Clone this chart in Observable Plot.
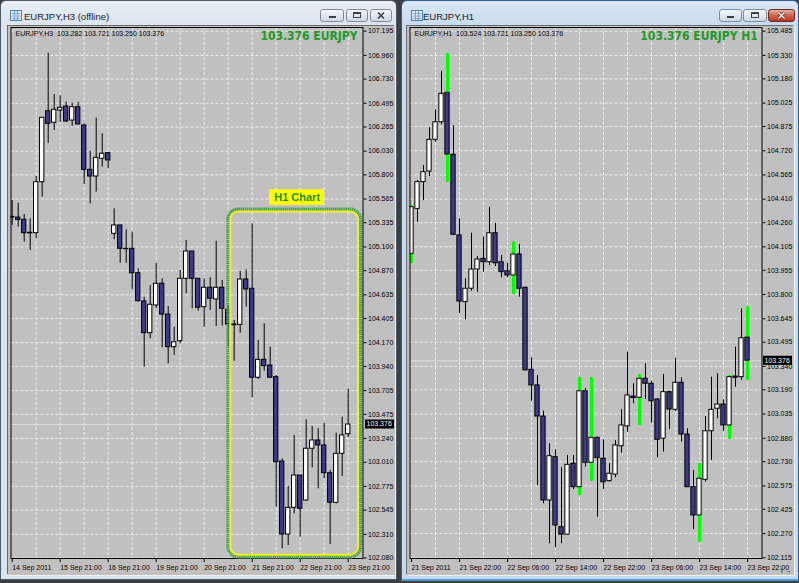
<!DOCTYPE html>
<html>
<head>
<meta charset="utf-8">
<script src="https://cdn.jsdelivr.net/npm/d3@7"></script>
<script src="https://cdn.jsdelivr.net/npm/@observablehq/plot@0.6"></script>
<style>
html,body{margin:0;padding:0;}
body{width:799px;height:583px;background:#3d3f42;position:relative;overflow:hidden;font-family:"Liberation Sans",Arial,sans-serif;}
.win{position:absolute;top:0;height:580px;box-sizing:border-box;border:1px solid #4e5966;border-radius:6px 6px 0 0;}
#w1{left:0;width:397px;background:linear-gradient(#e8eef6 0,#dbe4ef 24px,#d9e2ed 100%);}
#w2{left:401px;width:398px;height:581px;background:linear-gradient(#d8e7f7 0,#c8dcf1 24px,#c4d9ef 100%);border-color:#35618f;border-bottom:2px solid #4d9ad8;}
.title{position:absolute;top:10px;font-size:9.5px;color:#1a1a1a;white-space:nowrap;line-height:11px;}
.icon{position:absolute;left:9px;top:9px;}
.btn{position:absolute;top:8px;height:13px;box-sizing:border-box;border:1px solid #7d8a99;border-radius:3px;background:linear-gradient(#f6f9fc,#e0e8f1 50%,#cfd9e5);}
.btn svg{position:absolute;left:0;top:0;}
.btn.red{background:linear-gradient(#e8b0a4,#d0624e 50%,#bb3a26);border-color:#6b2a22;}
.client{position:absolute;top:25px;width:387px;height:549px;background:#c0c0c0;box-shadow:-1px -1px 0 #6b6b6b,1px 1px 0 #f2f2f2;}
#c1{left:7px;} #c2{left:5px;}
.client svg{position:absolute;left:0;top:0;}
</style>
</head>
<body>
<div class="win" id="w1">
  <svg class="icon" width="12" height="11"><rect x="0.5" y="0.5" width="11" height="10" fill="#dfeaf7" stroke="#4f7fb8"/><path d="M2 3.5H10M2 6H10M2 8.5H10M4.5 1V10M7.5 1V10" stroke="#6f97c8" stroke-width="0.8"/></svg>
  <div class="title" style="left:23px">EURJPY,H3 (offline)</div>
  <div class="btn" style="left:319px;width:24px"><svg width="22" height="11"><rect x="8" y="6" width="7" height="2" fill="#3a3f46"/></svg></div>
  <div class="btn" style="left:345px;width:22px"><svg width="20" height="11"><rect x="6.5" y="2.5" width="7" height="5" fill="none" stroke="#3a3f46"/><rect x="6.5" y="2.5" width="7" height="1.5" fill="#3a3f46"/></svg></div>
  <div class="btn" style="left:369px;width:22px"><svg width="20" height="11"><path d="M7 2.5L13 8.5M13 2.5L7 8.5" stroke="#3a3f46" stroke-width="1.6"/></svg></div>
  <div class="client" id="c1"></div>
</div>
<div class="win" id="w2">
  <svg class="icon" width="12" height="11"><rect x="0.5" y="0.5" width="11" height="10" fill="#dfeaf7" stroke="#4f7fb8"/><path d="M2 3.5H10M2 6H10M2 8.5H10M4.5 1V10M7.5 1V10" stroke="#6f97c8" stroke-width="0.8"/></svg>
  <div class="title" style="left:21px">EURJPY,H1</div>
  <div class="btn" style="left:317px;width:23px"><svg width="21" height="11"><rect x="7" y="6" width="7" height="2" fill="#3a3f46"/></svg></div>
  <div class="btn" style="left:341px;width:24px"><svg width="22" height="11"><rect x="7.5" y="2.5" width="7" height="5" fill="none" stroke="#3a3f46"/><rect x="7.5" y="2.5" width="7" height="1.5" fill="#3a3f46"/></svg></div>
  <div class="btn red" style="left:366px;width:27px"><svg width="25" height="11"><path d="M9.5 2.5L15.5 8.5M15.5 2.5L9.5 8.5" stroke="#5a1a12" stroke-width="2.6"/><path d="M9.5 2.5L15.5 8.5M15.5 2.5L9.5 8.5" stroke="#ffffff" stroke-width="1.5"/></svg></div>
  <div class="client" id="c2"></div>
</div>
<script>
// ---------- data ----------
const symbol = "EURJPY";

// EURJPY H3 candles
const h3Open  = [105.392,105.385,105.364,105.238,105.234,105.729,106.418,106.306,106.425,106.464,106.328,106.457,106.279,105.849,105.784,105.956,106.011,105.228,105.309,105.082,105.082,104.845,104.571,104.263,104.532,104.743,104.444,104.127,104.185,104.791,105.056,104.791,104.515,104.704,104.590,104.704,104.490,104.347,104.344,104.784,104.694,103.830,104.004,103.949,103.836,103.017,102.308,102.567,102.881,102.638,103.141,103.221,103.173,102.903,102.616,103.092,103.282];
const h3High  = [105.551,105.525,105.415,105.373,105.784,106.357,106.981,106.580,106.568,106.506,106.496,106.506,106.296,106.030,106.351,106.199,106.011,105.471,105.309,105.267,105.243,104.888,104.612,104.726,104.942,104.791,104.522,104.321,104.872,105.163,105.056,104.791,104.791,104.801,105.156,104.775,104.532,104.386,104.865,104.878,105.325,104.192,104.354,104.127,103.852,103.043,102.774,103.270,102.881,103.422,103.357,103.335,103.389,102.930,103.292,103.448,103.721];
const h3Low   = [105.309,105.293,105.147,105.066,105.179,105.584,106.107,106.231,106.311,106.311,106.270,106.289,105.707,105.519,105.632,105.875,105.859,105.170,104.942,104.942,104.684,104.564,103.933,104.208,104.500,104.121,103.966,104.046,104.160,104.645,104.500,104.477,104.321,104.483,104.328,104.331,104.134,103.991,104.263,104.515,103.636,103.813,103.894,103.830,102.573,102.170,102.201,102.509,102.282,102.632,102.956,102.752,102.849,102.212,102.606,102.872,103.250];
const h3Close = [105.386,105.362,105.234,105.232,105.729,106.354,106.296,106.432,106.451,106.318,106.457,106.289,105.849,105.784,105.966,106.005,105.940,105.309,105.082,105.078,104.845,104.574,104.263,104.539,104.743,104.444,104.127,104.175,104.791,105.056,104.791,104.510,104.704,104.597,104.704,104.500,104.347,104.340,104.784,104.687,103.830,104.004,103.942,103.830,103.010,102.308,102.567,102.881,102.558,103.141,103.221,103.173,102.903,102.616,103.092,103.270,103.376];
const h3PriceLabels = ["107.195","106.960","106.730","106.495","106.265","106.030","105.800","105.565","105.335","105.100","104.870","104.635","104.405","104.170","103.940","103.705","103.475","103.240","103.010","102.775","102.545","102.310","102.080"];
const h3DateLabels = ["14 Sep 2011","15 Sep 21:00","16 Sep 21:00","19 Sep 21:00","20 Sep 21:00","21 Sep 21:00","22 Sep 21:00","23 Sep 21:00"];

// EURJPY H1 candles
const h1Open  = [104.060,104.348,104.519,104.587,104.790,104.902,105.090,104.694,104.178,103.751,103.837,103.960,104.028,104.007,104.192,104.007,103.949,103.922,104.056,103.843,103.318,103.218,103.019,102.482,102.759,102.311,102.263,102.717,102.567,103.181,102.723,102.883,102.749,102.606,102.648,102.829,102.956,103.147,103.139,103.261,103.229,103.128,102.877,103.175,103.062,103.235,102.904,102.567,102.386,102.614,102.925,103.069,103.096,102.962,103.275,103.271,103.524];
const h1High  = [104.369,104.529,104.625,104.867,104.982,105.229,105.340,104.881,104.284,103.900,104.192,104.043,104.167,104.359,104.256,104.050,104.000,104.135,104.120,103.847,103.395,103.282,103.053,102.845,102.806,102.691,102.770,102.770,103.267,103.197,103.267,102.887,102.870,102.717,102.866,103.062,103.431,103.229,103.286,103.357,103.245,103.133,103.288,103.181,103.392,103.267,102.941,102.674,102.717,103.019,103.271,103.293,103.126,103.282,103.463,103.709,103.721];
const h1Low   = [104.000,104.263,104.401,104.555,104.774,104.886,104.519,104.178,103.677,103.638,103.821,103.815,103.943,103.986,103.979,103.907,103.907,103.800,103.783,103.314,103.117,102.578,102.461,102.205,102.179,102.205,102.263,102.551,102.514,102.695,102.606,102.375,102.551,102.599,102.627,102.785,102.919,103.101,102.962,103.128,102.977,102.755,102.791,102.936,103.053,102.855,102.567,102.295,102.215,102.599,102.738,103.005,102.925,102.872,103.207,103.250,103.250];
const h1Close = [104.359,104.519,104.583,104.790,104.902,105.084,104.696,104.182,103.755,103.837,103.960,104.024,104.007,104.192,104.000,103.943,103.922,104.056,103.837,103.314,103.218,103.019,102.482,102.765,102.322,102.263,102.710,102.567,103.181,102.723,102.883,102.753,102.599,102.653,102.834,102.962,103.154,103.137,103.261,103.229,103.117,102.870,103.175,103.064,103.235,102.904,102.567,102.386,102.621,102.925,103.062,103.096,102.962,103.271,103.267,103.520,103.376];
const h1Marked = [0,6,17,28,30,38,48,53,56];
const h1PriceLabels = ["105.485","105.330","105.180","105.025","104.875","104.720","104.565","104.410","104.260","104.105","103.955","103.800","103.645","103.495","103.340","103.190","103.035","102.880","102.730","102.575","102.425","102.270","102.115"];
const h1DateLabels = ["21 Sep 2011","21 Sep 22:00","22 Sep 06:00","22 Sep 14:00","22 Sep 22:00","23 Sep 06:00","23 Sep 14:00","23 Sep 22:00"];

// annotation on the H3 chart (candle index / price units)
const zoneText = "H1 Chart";
const zoneBars = [36.1, 58.05];
const zonePrices = [102.088, 105.46];
const zoneLabelBars = [42.93, 52.05];
const zoneLabelPrices = [105.503, 105.655];

// ---------- drawing ----------
const fmt = v => v.toFixed(3);
const smallFont = "'Liberation Sans', Arial, sans-serif";
const narrowFont = "'Liberation Sans Narrow', 'Arial Narrow', 'DejaVu Sans Condensed', sans-serif";

function makeChart(cfg) {
  const data = cfg.open.map((o, i) => ({
    i, open: o, high: cfg.high[i], low: cfg.low[i], close: cfg.close[i],
    up: cfg.close[i] >= o, mark: cfg.marked.includes(i)
  }));
  const n = data.length;
  const last = data[n - 1];
  const yTicks = cfg.yLabels.map(Number);
  const xTicks = cfg.xLabels.map((_, j) => j * 8);
  const vGrid = d3.range(4, n, 4);
  const gridStyle = {stroke: "#ececec", strokeDasharray: "3,2", strokeWidth: 1};

  const marks = [
    Plot.ruleY(yTicks, gridStyle),
    Plot.ruleX(vGrid, gridStyle),
    Plot.ruleY([last.close], {stroke: "#dedede"}),
    Plot.ruleX(data, {x: "i", y1: "low", y2: "high", stroke: "black", clip: "frame"}),
    Plot.ruleX(data.filter(d => d.mark), {x: "i", y1: "low", y2: "high", stroke: "#00ff00", strokeWidth: 3, clip: "frame"}),
    Plot.rect(data, {
      x1: d => d.i - 0.36, x2: d => d.i + 0.36, y1: "open", y2: "close",
      fill: d => d.up ? "white" : "#3d3a8a", stroke: "black", strokeWidth: 1, clip: "frame"
    }),
    Plot.frame({stroke: "black"}),
    Plot.axisY(yTicks, {anchor: "right", tickSize: 3, tickPadding: 2, tickFormat: fmt, fontSize: 7}),
    Plot.axisX(xTicks, {anchor: "bottom", tickSize: 4, tickPadding: 3, textAnchor: "start",
      tickFormat: i => cfg.xLabels[i / 8], fontSize: 7}),
    Plot.text([`${symbol},${cfg.tf}\u00a0\u00a0${fmt(last.open)} ${fmt(last.high)} ${fmt(last.low)} ${fmt(last.close)}`], {
      text: d => d, frameAnchor: "top-left", textAnchor: "start", lineAnchor: "top",
      dx: 4.5, dy: 4, fontSize: 7, fill: "black"
    }),
    Plot.text([`${fmt(last.close)} ${symbol}${cfg.headSuffix}`], {
      text: d => d, frameAnchor: "top-right", textAnchor: "end", lineAnchor: "top",
      dx: cfg.headDx, dy: 3.5, fontSize: 12, fontWeight: "bold", fontFamily: narrowFont, fill: "#22982a"
    }),
    ...(cfg.extra || [])
  ];

  const svg = Plot.plot({
    width: 387, height: 549,
    marginTop: 1, marginLeft: 2.5, marginRight: 32.5, marginBottom: 17,
    x: {type: "linear", domain: [0, n - 1], range: cfg.xRange},
    y: {type: "linear", domain: cfg.yDomain, range: cfg.yRange},
    style: {background: "#c0c0c0", fontFamily: smallFont, fontSize: "7px", color: "black", overflow: "visible"},
    marks
  });

  // current price tag on the price axis
  const yp = svg.scale("y").apply(last.close);
  const tag = d3.select(svg).append("g").attr("text-anchor", "start");
  tag.append("rect").attr("x", cfg.tagX).attr("y", yp - 4.5).attr("width", 29).attr("height", 9).attr("fill", "black");
  tag.append("text").attr("x", cfg.tagX + 1.5).attr("y", yp).attr("dy", "0.35em").attr("text-anchor", "start")
    .attr("fill", "white").attr("font-size", 7).attr("font-family", smallFont).text(fmt(last.close));
  return svg;
}

const zone = [{x1: zoneBars[0], x2: zoneBars[1], y1: zonePrices[0], y2: zonePrices[1]}];
const zoneLabel = [{x1: zoneLabelBars[0], x2: zoneLabelBars[1], y1: zoneLabelPrices[0], y2: zoneLabelPrices[1], text: zoneText}];

const left = makeChart({
  open: h3Open, high: h3High, low: h3Low, close: h3Close, marked: [],
  yLabels: h3PriceLabels, xLabels: h3DateLabels, tf: "H3", headSuffix: "",
  yDomain: [102.080, 107.195], yRange: [531.5, 4.7], xRange: [3.7, 339.7],
  headDx: -5.5, tagX: 357,
  extra: [
    Plot.rect(zone, {x1: "x1", x2: "x2", y1: "y1", y2: "y2", rx: 10, fill: "none", stroke: "#45a04c", strokeWidth: 4, strokeDasharray: "1.5,0.6"}),
    Plot.rect(zone, {x1: "x1", x2: "x2", y1: "y1", y2: "y2", inset: 2, rx: 8, fill: "none", stroke: "#f2f01e", strokeWidth: 2}),
    Plot.rect(zoneLabel, {x1: "x1", x2: "x2", y1: "y1", y2: "y2", fill: "#ffff00"}),
    Plot.text(zoneLabel, {x: d => (d.x1 + d.x2) / 2, y: d => (d.y1 + d.y2) / 2, text: "text",
      fill: "#1f8f25", fontWeight: "bold", fontSize: 11, fontFamily: smallFont})
  ]
});
document.getElementById("c1").appendChild(left);

const right = makeChart({
  open: h1Open, high: h1High, low: h1Low, close: h1Close, marked: h1Marked,
  yLabels: h1PriceLabels, xLabels: h1DateLabels, tf: "H1", headSuffix: " H1",
  yDomain: [102.115, 105.485], yRange: [531.3, 4.7], xRange: [4, 340],
  headDx: -4.2, tagX: 356
});
document.getElementById("c2").appendChild(right);
</script>
</body>
</html>
